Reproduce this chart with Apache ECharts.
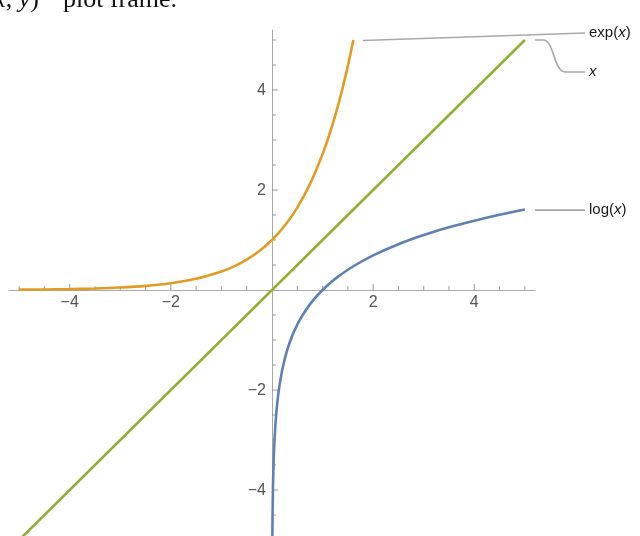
<!DOCTYPE html>
<html>
<head>
<meta charset="utf-8">
<script src="https://cdn.jsdelivr.net/npm/echarts@6/dist/echarts.min.js"></script>
<style>
  html, body { margin: 0; padding: 0; background: #fff; }
  #chart { width: 640px; height: 536px; }
</style>
</head>
<body>
<div id="chart"></div>
<script>
// exp(x), stopping where it leaves the frame at y = 5
const expX = [-5, -4.5, -4, -3.5, -3, -2.5, -2, -1.5, -1, -0.75, -0.5, -0.25, 0, 0.25, 0.5, 0.75, 1, 1.1, 1.2, 1.3, 1.4, 1.5, 1.609];
const expY = [0.007, 0.011, 0.018, 0.030, 0.050, 0.082, 0.135, 0.223, 0.368, 0.472, 0.607, 0.779, 1, 1.284, 1.649, 2.117, 2.718, 3.004, 3.320, 3.669, 4.055, 4.482, 5.0];

// the identity line x
const idX = [-5, 5];
const idY = [-5, 5];

// log(x), rising steeply out of the bottom edge
const logX = [0.0067, 0.008, 0.01, 0.013, 0.017, 0.022, 0.03, 0.04, 0.05, 0.065, 0.08, 0.1, 0.13, 0.17, 0.22, 0.3, 0.4, 0.5, 0.6, 0.75, 0.9, 1.1, 1.3, 1.6, 2, 2.5, 3, 3.5, 4, 4.5, 5];
const logY = [-5.0, -4.828, -4.605, -4.343, -4.075, -3.817, -3.507, -3.219, -2.996, -2.733, -2.526, -2.303, -2.040, -1.772, -1.514, -1.204, -0.916, -0.693, -0.511, -0.288, -0.105, 0.095, 0.262, 0.470, 0.693, 0.916, 1.099, 1.253, 1.386, 1.504, 1.609];

// axis ticks
const xMajorTicks = [-4, -2, 2, 4];
const xMajorLabels = ['\u22124', '\u22122', '2', '4'];
const xMinorTicks = [-5, -4.5, -3.5, -3, -2.5, -1.5, -1, -0.5, 0.5, 1, 1.5, 2.5, 3, 3.5, 4.5, 5];
const yMajorTicks = [-4, -2, 2, 4];
const yMajorLabels = ['\u22124', '\u22122', '2', '4'];
const yMinorTicks = [-4.5, -3.5, -3, -2.5, -1.5, -1, -0.5, 0.5, 1, 1.5, 2.5, 3, 3.5, 4.5, 5];

// callout names
const calloutNames = ['exp', 'x', 'log'];

const COLORS = { exp: '#E19C24', id: '#8FB032', log: '#5E81B5' };
const AXIS_COLOR = '#a8a8a8';
const TICK_COLOR = '#9a9a9a';
const LABEL_COLOR = '#555555';
const LEADER_COLOR = '#a9a9a9';
const SANS = '"Liberation Sans", Arial, sans-serif';
const SERIF = '"Liberation Serif", "Times New Roman", serif';

const zip = (xs, ys) => xs.map((x, i) => [x, ys[i]]);

const chart = echarts.init(document.getElementById('chart'), null, { renderer: 'canvas' });

function curve(name, xs, ys, color) {
  return {
    name, type: 'line', data: zip(xs, ys),
    showSymbol: false, smooth: 0.35,
    lineStyle: { color, width: 2.6 },
    z: 3, silent: true
  };
}

// x-axis ticks point up, labels below
const xTickData = xMajorTicks.map((v, i) => [v, 0, 1, xMajorLabels[i]])
  .concat(xMinorTicks.map(v => [v, 0, 0, '']));
// y-axis ticks point right, labels on the left
const yTickData = yMajorTicks.map((v, i) => [0, v, 1, yMajorLabels[i]])
  .concat(yMinorTicks.map(v => [0, v, 0, '']));

function renderXTick(params, api) {
  const p = api.coord([api.value(0), 0]);
  const major = api.value(2) === 1;
  const len = major ? 6 : 4;
  const children = [{
    type: 'line',
    shape: { x1: p[0], y1: p[1], x2: p[0], y2: p[1] - len },
    style: { stroke: TICK_COLOR, lineWidth: 1 }
  }];
  const label = xTickData[params.dataIndex][3];
  if (label) {
    children.push({
      type: 'text',
      style: { x: p[0], y: p[1] + 5, text: label, font: '16px ' + SANS, fill: LABEL_COLOR, align: 'center', verticalAlign: 'top' }
    });
  }
  return { type: 'group', children };
}

function renderYTick(params, api) {
  const p = api.coord([0, api.value(1)]);
  const major = api.value(2) === 1;
  const len = major ? 6 : 4;
  const children = [{
    type: 'line',
    shape: { x1: p[0], y1: p[1], x2: p[0] + len, y2: p[1] },
    style: { stroke: TICK_COLOR, lineWidth: 1 }
  }];
  const label = yTickData[params.dataIndex][3];
  if (label) {
    children.push({
      type: 'text',
      style: { x: p[0] - 6, y: p[1] + 1, text: label, font: '16px ' + SANS, fill: LABEL_COLOR, align: 'right', verticalAlign: 'middle' }
    });
  }
  return { type: 'group', children };
}

// callouts anchored at the end of each curve
const calloutData = [
  [expX[expX.length - 1], expY[expY.length - 1]],
  [idX[idX.length - 1], idY[idY.length - 1]],
  [logX[logX.length - 1], logY[logY.length - 1]]
];

function renderCallout(params, api) {
  const a = api.coord([api.value(0), api.value(1)]);
  const col = api.getWidth() - 55;
  const name = calloutNames[params.dataIndex];
  const labelStyle = (text, y) => ({
    type: 'text',
    style: {
      x: col + 4, y, text, font: '15px ' + SANS, fill: '#1a1a1a',
      align: 'left', verticalAlign: 'middle',
      rich: { i: { fontStyle: 'italic', fontSize: 15, fontFamily: SANS, fill: '#1a1a1a' } }
    }
  });
  const lead = { stroke: LEADER_COLOR, lineWidth: 1.7, fill: null };
  if (name === 'exp') {
    const ty = a[1] - 7;
    return { type: 'group', children: [
      { type: 'line', shape: { x1: a[0] + 9.5, y1: a[1] + 0.5, x2: col, y2: ty }, style: lead },
      labelStyle('exp({i|x})', ty)
    ] };
  }
  if (name === 'x') {
    const sx = a[0] + 10, ty = a[1] + 32;
    const path = 'M' + sx + ',' + a[1] + ' L' + (sx + 8) + ',' + a[1] +
      ' C' + (sx + 20) + ',' + a[1] + ' ' + (sx + 18) + ',' + ty + ' ' + (sx + 31) + ',' + ty +
      ' L' + col + ',' + ty;
    return { type: 'group', children: [
      { type: 'path', shape: { pathData: path }, style: lead },
      labelStyle('{i|x}', ty)
    ] };
  }
  return { type: 'group', children: [
    { type: 'line', shape: { x1: a[0] + 10, y1: a[1] + 0.5, x2: col, y2: a[1] + 0.5 }, style: lead },
    labelStyle('log({i|x})', a[1] + 0.5)
  ] };
}

const option = {
  animation: false,
  backgroundColor: '#ffffff',
  grid: { left: 9, right: 105, top: 30, bottom: 0, containLabel: false, outerBoundsMode: 'none' },
  xAxis: {
    type: 'value', min: -5.2, max: 5.2,
    axisLine: { show: true, onZero: true, lineStyle: { color: AXIS_COLOR, width: 1 } },
    axisTick: { show: false }, axisLabel: { show: false }, splitLine: { show: false }
  },
  yAxis: {
    type: 'value', min: -4.92, max: 5.2,
    axisLine: { show: true, onZero: true, lineStyle: { color: AXIS_COLOR, width: 1 } },
    axisTick: { show: false }, axisLabel: { show: false }, splitLine: { show: false }
  },
  graphic: [
    {
      type: 'text', silent: true,
      style: {
        x: 39, y: 13, text: '({i|x}, {i|y})', align: 'right', verticalAlign: 'bottom',
        font: '26px ' + SERIF, fill: '#111',
        rich: { i: { fontStyle: 'italic', fontFamily: SERIF, fontSize: 26, fill: '#111' } }
      }
    },
    {
      type: 'text', silent: true,
      style: { x: 63, y: 13, text: 'plot frame.', align: 'left', verticalAlign: 'bottom', font: '26px ' + SERIF, fill: '#111' }
    }
  ],
  series: [
    { type: 'custom', name: 'xticks', data: xTickData.map(d => [d[0], d[1], d[2]]), renderItem: renderXTick, clip: false, z: 1, silent: true },
    { type: 'custom', name: 'yticks', data: yTickData.map(d => [d[0], d[1], d[2]]), renderItem: renderYTick, clip: false, z: 1, silent: true },
    curve('exp(x)', expX, expY, COLORS.exp),
    curve('x', idX, idY, COLORS.id),
    curve('log(x)', logX, logY, COLORS.log),
    { type: 'custom', name: 'callouts', data: calloutData, renderItem: renderCallout, clip: false, z: 4, silent: true }
  ]
};

chart.setOption(option);
</script>
</body>
</html>
